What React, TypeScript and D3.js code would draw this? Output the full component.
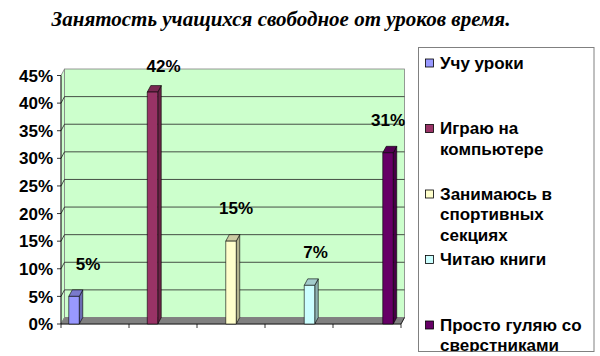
import React from "react";
import * as d3 from "d3";

const title = "Занятость учащихся свободное от уроков время.";
const seriesNames = [
  "Учу уроки",
  "Играю на\nкомпьютере",
  "Занимаюсь в\nспортивных\nсекциях",
  "Читаю книги",
  "Просто гуляю со\nсверстниками",
];
const values = [5, 42, 15, 7, 31];
const yTicks = [0, 5, 10, 15, 20, 25, 30, 35, 40, 45];
const frontColors = ["#9999FF", "#993366", "#FFFFCC", "#CCFFFF", "#660066"];
const sideColors = ["#6B6BB3", "#6B2447", "#B3B38F", "#8FB3B3", "#470047"];
const topColors = ["#7A7ACC", "#7A2952", "#CCCCA3", "#A3CCCC", "#520052"];
const labelNudge = [14, 11, 5, 6, 0];

const W = 600;
const H = 356;
const DX = 3.5;
const DY = -6.5;
const FONT = "'Liberation Sans', Arial, sans-serif";
const FS = 17;

export default function App() {
  const cats = values.map((_, i) => String(i));
  const x = d3.scaleBand<string>().domain(cats).range([61, 401]).padding(0);
  const inner = d3
    .scaleBand<string>()
    .domain(cats)
    .range([0, x.bandwidth()])
    .paddingInner(0)
    .paddingOuter(0.74);
  const y = d3.scaleLinear().domain([0, 45]).range([324, 75.5]);
  const x0 = 61;
  const x1 = 401;
  const yb = y(0);
  const yt = y(45);
  const pts = (p: number[][]) => p.map((q) => q.join(",")).join(" ");

  const lineH = 20.5;
  const entryStep = 65.5;
  const legendTop = 68.5;

  return (
    <svg
      width={W}
      height={H}
      style={{ position: "absolute", left: 0, top: 0, background: "#fff" }}
    >
      <defs>
        <clipPath id="legclip">
          <rect x={418.5} y={47.5} width={175.5} height={304} />
        </clipPath>
      </defs>
      <text
        x={281}
        y={26}
        textAnchor="middle"
        fontFamily="'Liberation Serif', 'Times New Roman', serif"
        fontWeight="bold"
        fontStyle="italic"
        fontSize={21}
        fill="#000"
      >
        {title}
      </text>

      {/* left wall */}
      <polygon
        points={pts([
          [x0, yt],
          [x0 + DX, yt + DY],
          [x0 + DX, yb + DY],
          [x0, yb],
        ])}
        fill="#CCFFCC"
        stroke="#808080"
        strokeWidth={0.8}
      />
      {/* back wall */}
      <rect
        x={x0 + DX}
        y={yt + DY}
        width={x1 - x0}
        height={yb - yt}
        fill="#CCFFCC"
        stroke="#808080"
        strokeWidth={0.8}
      />
      {/* gridlines */}
      {yTicks
        .filter((t) => t > 0 && t < 45)
        .map((t) => (
          <g key={t}>
            <line
              x1={x0}
              y1={y(t)}
              x2={x0 + DX}
              y2={y(t) + DY}
              stroke="#222"
              strokeWidth={0.8}
            />
            <line
              x1={x0 + DX}
              y1={y(t) + DY}
              x2={x1 + DX}
              y2={y(t) + DY}
              stroke="#222"
              strokeWidth={0.8}
            />
          </g>
        ))}
      {/* floor */}
      <polygon
        points={pts([
          [x0, yb],
          [x1, yb],
          [x1 + DX, yb + DY],
          [x0 + DX, yb + DY],
        ])}
        fill="#808080"
        stroke="#808080"
        strokeWidth={0.8}
      />

      {/* y axis */}
      <line x1={x0} y1={yt} x2={x0} y2={yb} stroke="#000" strokeWidth={0.8} />
      {yTicks.map((t) => (
        <g key={t}>
          <line x1={x0 - 4} y1={y(t)} x2={x0} y2={y(t)} stroke="#000" strokeWidth={0.8} />
          <text
            x={53}
            y={y(t)}
            dy="0.36em"
            textAnchor="end"
            fontFamily={FONT}
            fontWeight="bold"
            fontSize={FS}
            fill="#000"
          >
            {t}%
          </text>
        </g>
      ))}
      {/* x axis */}
      <line x1={x0} y1={yb} x2={x1} y2={yb} stroke="#000" strokeWidth={0.8} />
      {[...cats.map((c) => x(c) as number), x1].map((v, i) => (
        <line key={i} x1={v} y1={yb} x2={v} y2={yb + 4} stroke="#000" strokeWidth={0.8} />
      ))}
      <line x1={x1} y1={yb} x2={x1 + DX} y2={yb + DY} stroke="#000" strokeWidth={0.8} />

      {/* bars */}
      {values.map((v, i) => {
        const c = cats[i];
        const bx = (x(c) as number) + (inner(c) as number);
        const bw = inner.bandwidth();
        const top = y(v);
        return (
          <g key={i} stroke="#000" strokeWidth={0.6} strokeLinejoin="round">
            <polygon
              points={pts([
                [bx + bw, top],
                [bx + bw + DX, top + DY],
                [bx + bw + DX, yb + DY],
                [bx + bw, yb],
              ])}
              fill={sideColors[i]}
            />
            <polygon
              points={pts([
                [bx, top],
                [bx + DX, top + DY],
                [bx + bw + DX, top + DY],
                [bx + bw, top],
              ])}
              fill={topColors[i]}
            />
            <rect x={bx} y={top} width={bw} height={yb - top} fill={frontColors[i]} />
          </g>
        );
      })}

      {/* data labels */}
      {values.map((v, i) => {
        const c = cats[i];
        const cx = (x(c) as number) + (inner(c) as number) + inner.bandwidth() / 2 + labelNudge[i];
        const cy = Math.max(y(v) - 33, 66);
        return (
          <text
            key={i}
            x={cx}
            y={cy}
            dy="0.36em"
            textAnchor="middle"
            fontFamily={FONT}
            fontWeight="bold"
            fontSize={FS}
            fill="#000"
          >
            {v}%
          </text>
        );
      })}

      {/* legend */}
      <rect
        x={418.5}
        y={47.5}
        width={175.5}
        height={304}
        fill="#fff"
        stroke="#808080"
        strokeWidth={1}
      />
      <g clipPath="url(#legclip)">
        {seriesNames.map((name, i) => {
          const by = legendTop + i * entryStep;
          return (
            <g key={i}>
              <rect
                x={425.5}
                y={by - 9.5}
                width={8}
                height={8}
                fill={frontColors[i]}
                stroke="#000"
                strokeWidth={0.8}
              />
              <text
                x={440}
                y={by}
                fontFamily={FONT}
                fontWeight="bold"
                fontSize={FS}
                fill="#000"
              >
                {name.split("\n").map((ln, j) => (
                  <tspan key={j} x={440} y={by + j * lineH}>
                    {ln}
                  </tspan>
                ))}
              </text>
            </g>
          );
        })}
      </g>
    </svg>
  );
}
